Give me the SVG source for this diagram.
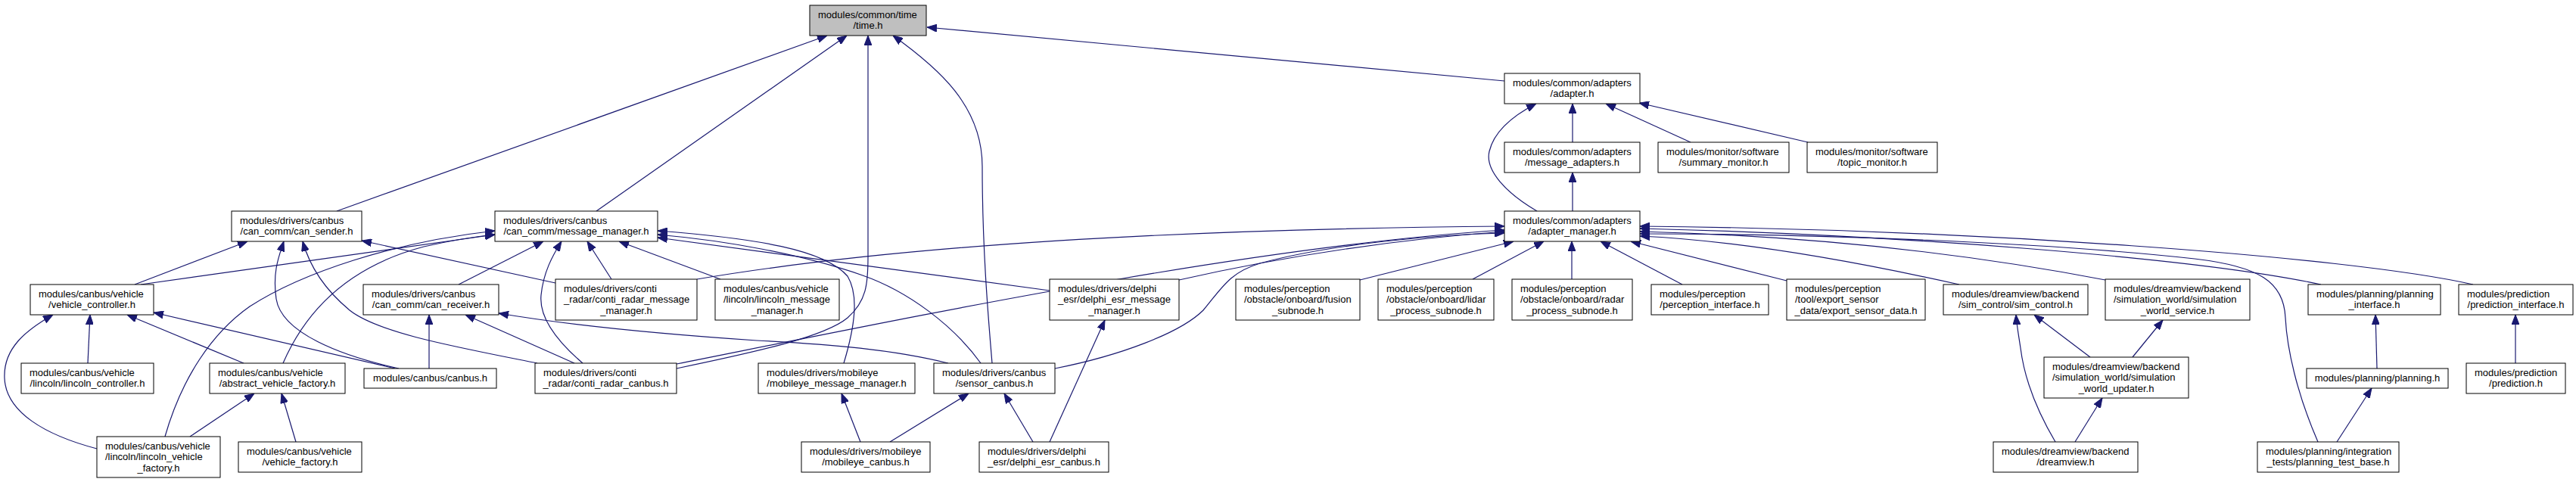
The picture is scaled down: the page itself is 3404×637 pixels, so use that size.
<svg xmlns="http://www.w3.org/2000/svg" width="3404" height="637" viewBox="0 0 3404 637">
<style>
.node rect{fill:#ffffff;stroke:#000000;stroke-width:1}
.node.root rect{fill:#bfbfbf}
.node text{font-family:"Liberation Sans",Arial,sans-serif;font-size:13px;fill:#000000}
.node text.c{text-anchor:middle}
.edges path{fill:none;stroke:#191970;stroke-width:1.2;marker-end:url(#arr)}
</style>
<defs>
<marker id="arr" viewBox="0 0 13 10" refX="13" refY="5" markerWidth="13" markerHeight="10" markerUnits="userSpaceOnUse" orient="auto">
<path d="M0,0 L13,5 L0,10 z" fill="#191970" stroke="#191970" stroke-width="1"/>
</marker>
</defs>
<rect x="0" y="0" width="3404" height="637" fill="#ffffff"/>
<g id="edges" class="edges">
<path d="M445,279 L1093,47"/>
<path d="M788,279 L1119,47"/>
<path d="M894,487 C1000,465 1090,445 1120,420 C1145,398 1147,375 1147,340 L1147,47"/>
<path d="M1311,480 C1306,420 1298,330 1298,220 C1298,140 1240,90 1180,47"/>
<path d="M1988,107 L1225,36"/>
<path d="M2031,279 C1990,255 1962,225 1968,200 C1974,175 1995,155 2030,137"/>
<path d="M2078,188 L2078,137"/>
<path d="M2078,279 L2078,228"/>
<path d="M2234,188 L2122,137"/>
<path d="M2389,188 L2166,136"/>
<path d="M178,376 L327,319"/>
<path d="M186,376 L654,310"/>
<path d="M527,487 C450,470 372,440 365,395 C360,360 368,340 375,319"/>
<path d="M710,480 C600,458 500,440 462,410 C432,385 410,355 400,319"/>
<path d="M734,374 L478,318"/>
<path d="M374,480 C400,420 450,355 560,326 C595,318 625,313 654,310"/>
<path d="M218,577 C240,500 280,440 330,405 C400,360 520,320 654,305"/>
<path d="M606,376 L718,319"/>
<path d="M770,480 C735,450 712,420 715,390 C718,360 730,338 742,319"/>
<path d="M808,369 L776,319"/>
<path d="M952,369 L818,319"/>
<path d="M1387,384 L869,314"/>
<path d="M1115,480 C1130,430 1135,390 1120,365 C1090,330 1000,315 869,305"/>
<path d="M1296,480 C1260,430 1200,385 1140,364 C1060,336 960,318 869,310"/>
<path d="M567,487 L567,416"/>
<path d="M759,480 L615,416"/>
<path d="M1253,480 C1180,462 1100,455 1000,450 C850,440 730,426 659,414"/>
<path d="M251,577 L336,520"/>
<path d="M391,584 L372,520"/>
<path d="M116,480 L119,416"/>
<path d="M322,480 L168,416"/>
<path d="M522,487 L203,413"/>
<path d="M128,593 C60,575 8,545 6,500 C4,460 35,436 70,416"/>
<path d="M1137,584 L1112,520"/>
<path d="M1176,584 L1280,520"/>
<path d="M1365,584 L1327,520"/>
<path d="M1387,584 L1460,423"/>
<path d="M921,369 Q1300,305 1988,299"/>
<path d="M894,481 C1200,420 1650,325 1988,304"/>
<path d="M1558,370 C1700,338 1850,316 1988,306"/>
<path d="M1394,487 C1480,470 1560,440 1590,410 C1615,380 1625,360 1665,348 C1760,322 1900,310 1988,308"/>
<path d="M1797,370 L2000,319"/>
<path d="M1946,369 L2040,319"/>
<path d="M2077,369 L2077,319"/>
<path d="M2223,376 L2115,319"/>
<path d="M2361,371 L2155,319"/>
<path d="M2589,376 C2450,345 2300,318 2167,312"/>
<path d="M2782,370 C2600,335 2400,312 2167,306"/>
<path d="M3067,376 C2900,340 2500,310 2167,302"/>
<path d="M3268,376 C3100,338 2600,303 2167,299"/>
<path d="M3063,584 C3035,520 3022,460 3020,420 C3018,372 2985,352 2900,342 C2700,320 2400,309 2167,309"/>
<path d="M2762,472 L2688,416"/>
<path d="M2818,472 L2858,423"/>
<path d="M2716,584 C2690,540 2675,500 2670,460 C2667,440 2665,430 2664,416"/>
<path d="M2742,584 L2778,526"/>
<path d="M3088,584 L3134,513"/>
<path d="M3141,487 L3139,416"/>
<path d="M3324,480 L3324,416"/>
</g>
<g id="n_time" class="node root"><rect x="1070" y="7" width="154" height="40"/><text x="1081" y="23.75">modules/common/time</text><text class="c" x="1147" y="38.25">/time.h</text></g>
<g id="n_can_sender" class="node"><rect x="306" y="279" width="172" height="40"/><text x="317" y="295.75">modules/drivers/canbus</text><text class="c" x="392" y="310.25">/can_comm/can_sender.h</text></g>
<g id="n_message_manager" class="node"><rect x="654" y="279" width="215" height="40"/><text x="665" y="295.75">modules/drivers/canbus</text><text class="c" x="761.5" y="310.25">/can_comm/message_manager.h</text></g>
<g id="n_adapter" class="node"><rect x="1988" y="97" width="179" height="40"/><text x="1999" y="113.75">modules/common/adapters</text><text class="c" x="2077.5" y="128.25">/adapter.h</text></g>
<g id="n_message_adapters" class="node"><rect x="1988" y="188" width="179" height="40"/><text x="1999" y="204.75">modules/common/adapters</text><text class="c" x="2077.5" y="219.25">/message_adapters.h</text></g>
<g id="n_summary_monitor" class="node"><rect x="2191" y="188" width="173" height="40"/><text x="2202" y="204.75">modules/monitor/software</text><text class="c" x="2277.5" y="219.25">/summary_monitor.h</text></g>
<g id="n_topic_monitor" class="node"><rect x="2388" y="188" width="172" height="40"/><text x="2399" y="204.75">modules/monitor/software</text><text class="c" x="2474" y="219.25">/topic_monitor.h</text></g>
<g id="n_adapter_manager" class="node"><rect x="1988" y="279" width="179" height="40"/><text x="1999" y="295.75">modules/common/adapters</text><text class="c" x="2077.5" y="310.25">/adapter_manager.h</text></g>
<g id="n_vehicle_controller" class="node"><rect x="40" y="376" width="163" height="40"/><text x="51" y="392.75">modules/canbus/vehicle</text><text class="c" x="121.5" y="407.25">/vehicle_controller.h</text></g>
<g id="n_lincoln_controller" class="node"><rect x="28" y="480" width="175" height="40"/><text x="39" y="496.75">modules/canbus/vehicle</text><text class="c" x="115.5" y="511.25">/lincoln/lincoln_controller.h</text></g>
<g id="n_abstract_vehicle_factory" class="node"><rect x="277" y="480" width="179" height="40"/><text x="288" y="496.75">modules/canbus/vehicle</text><text class="c" x="366.5" y="511.25">/abstract_vehicle_factory.h</text></g>
<g id="n_canbus" class="node"><rect x="481" y="487" width="175" height="26"/><text class="c" x="568.5" y="504">modules/canbus/canbus.h</text></g>
<g id="n_lincoln_vehicle_factory" class="node"><rect x="128" y="577" width="163" height="54"/><text x="139" y="593.5">modules/canbus/vehicle</text><text x="139" y="608">/lincoln/lincoln_vehicle</text><text class="c" x="209.5" y="622.5">_factory.h</text></g>
<g id="n_vehicle_factory" class="node"><rect x="315" y="584" width="163" height="40"/><text x="326" y="600.75">modules/canbus/vehicle</text><text class="c" x="396.5" y="615.25">/vehicle_factory.h</text></g>
<g id="n_can_receiver" class="node"><rect x="480" y="376" width="179" height="40"/><text x="491" y="392.75">modules/drivers/canbus</text><text class="c" x="569.5" y="407.25">/can_comm/can_receiver.h</text></g>
<g id="n_conti_radar_message_manager" class="node"><rect x="734" y="369" width="187" height="54"/><text x="745" y="385.5">modules/drivers/conti</text><text x="745" y="400">_radar/conti_radar_message</text><text class="c" x="827.5" y="414.5">_manager.h</text></g>
<g id="n_lincoln_message_manager" class="node"><rect x="945" y="369" width="164" height="54"/><text x="956" y="385.5">modules/canbus/vehicle</text><text x="956" y="400">/lincoln/lincoln_message</text><text class="c" x="1027" y="414.5">_manager.h</text></g>
<g id="n_conti_radar_canbus" class="node"><rect x="707" y="480" width="187" height="40"/><text x="718" y="496.75">modules/drivers/conti</text><text class="c" x="800.5" y="511.25">_radar/conti_radar_canbus.h</text></g>
<g id="n_mobileye_message_manager" class="node"><rect x="1002" y="480" width="207" height="40"/><text x="1013" y="496.75">modules/drivers/mobileye</text><text class="c" x="1105.5" y="511.25">/mobileye_message_manager.h</text></g>
<g id="n_mobileye_canbus" class="node"><rect x="1059" y="584" width="170" height="40"/><text x="1070" y="600.75">modules/drivers/mobileye</text><text class="c" x="1144" y="615.25">/mobileye_canbus.h</text></g>
<g id="n_delphi_esr_message_manager" class="node"><rect x="1387" y="369" width="171" height="54"/><text x="1398" y="385.5">modules/drivers/delphi</text><text x="1398" y="400">_esr/delphi_esr_message</text><text class="c" x="1472.5" y="414.5">_manager.h</text></g>
<g id="n_sensor_canbus" class="node"><rect x="1234" y="480" width="160" height="40"/><text x="1245" y="496.75">modules/drivers/canbus</text><text class="c" x="1314" y="511.25">/sensor_canbus.h</text></g>
<g id="n_delphi_esr_canbus" class="node"><rect x="1294" y="584" width="171" height="40"/><text x="1305" y="600.75">modules/drivers/delphi</text><text class="c" x="1379.5" y="615.25">_esr/delphi_esr_canbus.h</text></g>
<g id="n_fusion_subnode" class="node"><rect x="1633" y="369" width="164" height="54"/><text x="1644" y="385.5">modules/perception</text><text x="1644" y="400">/obstacle/onboard/fusion</text><text class="c" x="1715" y="414.5">_subnode.h</text></g>
<g id="n_lidar_process_subnode" class="node"><rect x="1821" y="369" width="153" height="54"/><text x="1832" y="385.5">modules/perception</text><text x="1832" y="400">/obstacle/onboard/lidar</text><text class="c" x="1897.5" y="414.5">_process_subnode.h</text></g>
<g id="n_radar_process_subnode" class="node"><rect x="1998" y="369" width="159" height="54"/><text x="2009" y="385.5">modules/perception</text><text x="2009" y="400">/obstacle/onboard/radar</text><text class="c" x="2077.5" y="414.5">_process_subnode.h</text></g>
<g id="n_perception_interface" class="node"><rect x="2182" y="376" width="155" height="40"/><text x="2193" y="392.75">modules/perception</text><text class="c" x="2259.5" y="407.25">/perception_interface.h</text></g>
<g id="n_export_sensor_data" class="node"><rect x="2361" y="369" width="183" height="54"/><text x="2372" y="385.5">modules/perception</text><text x="2372" y="400">/tool/export_sensor</text><text class="c" x="2452.5" y="414.5">_data/export_sensor_data.h</text></g>
<g id="n_sim_control" class="node"><rect x="2568" y="376" width="191" height="40"/><text x="2579" y="392.75">modules/dreamview/backend</text><text class="c" x="2663.5" y="407.25">/sim_control/sim_control.h</text></g>
<g id="n_simulation_world_service" class="node"><rect x="2782" y="369" width="191" height="54"/><text x="2793" y="385.5">modules/dreamview/backend</text><text x="2793" y="400">/simulation_world/simulation</text><text class="c" x="2877.5" y="414.5">_world_service.h</text></g>
<g id="n_simulation_world_updater" class="node"><rect x="2701" y="472" width="191" height="54"/><text x="2712" y="488.5">modules/dreamview/backend</text><text x="2712" y="503">/simulation_world/simulation</text><text class="c" x="2796.5" y="517.5">_world_updater.h</text></g>
<g id="n_dreamview" class="node"><rect x="2634" y="584" width="191" height="40"/><text x="2645" y="600.75">modules/dreamview/backend</text><text class="c" x="2729.5" y="615.25">/dreamview.h</text></g>
<g id="n_planning_interface" class="node"><rect x="3050" y="376" width="175" height="40"/><text x="3061" y="392.75">modules/planning/planning</text><text class="c" x="3137.5" y="407.25">_interface.h</text></g>
<g id="n_prediction_interface" class="node"><rect x="3249" y="376" width="151" height="40"/><text x="3260" y="392.75">modules/prediction</text><text class="c" x="3324.5" y="407.25">/prediction_interface.h</text></g>
<g id="n_planning" class="node"><rect x="3048" y="487" width="187" height="26"/><text class="c" x="3141.5" y="504">modules/planning/planning.h</text></g>
<g id="n_prediction" class="node"><rect x="3259" y="480" width="131" height="40"/><text x="3270" y="496.75">modules/prediction</text><text class="c" x="3324.5" y="511.25">/prediction.h</text></g>
<g id="n_planning_test_base" class="node"><rect x="2983" y="584" width="187" height="40"/><text x="2994" y="600.75">modules/planning/integration</text><text class="c" x="3076.5" y="615.25">_tests/planning_test_base.h</text></g>
</svg>
